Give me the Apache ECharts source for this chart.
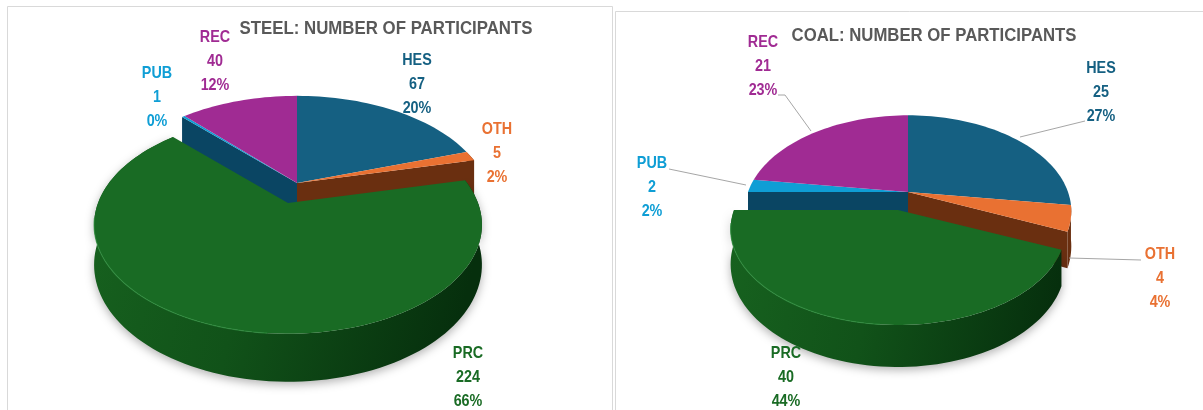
<!DOCTYPE html>
<html>
<head>
<meta charset="utf-8">
<style>
html, body { margin: 0; padding: 0; background: #fff; }
#main { width: 1203px; height: 410px; }
</style>
<script src="https://cdn.jsdelivr.net/npm/echarts@6/dist/echarts.min.js"></script>
</head>
<body>
<div id="main"></div>
<script>
// slices clockwise from 12 o'clock
var categories = ['HES', 'OTH', 'PRC', 'PUB', 'REC']
var steelValues = [67, 5, 224, 1, 40]
var steelPct = ['20%', '2%', '66%', '0%', '12%']
var coalValues = [25, 4, 40, 2, 21]
var coalPct = ['27%', '4%', '44%', '2%', '23%']

var topColors = ['#156082', '#E97132', '#196B24', '#0F9ED5', '#A02B93']
var wallColors = ['#0d4a66', '#6a2f10', '#145a1f', '#0a4563', '#6a1c62']

// 图的位置
var steelGeo = {back: [297, 183], front: [288, 203], R: 190, frontR: 190, S: 104.6, H: 38.4}
var coalGeo = {back: [908, 192], front: [898, 210], R: 160, frontR: 164, S: 92, H: 33.6}
var persp = 0.2

var steelLabels = [[417, 60], [497, 129], [468, 353], [157, 73], [215, 37]]
var coalLabels = [[1101, 68], [1160, 254], [786, 353], [652, 163], [763, 42]]
var lineGap = 24

var coalLeaders = [
    [[1085, 121], [1020, 137]],
    [[1141, 260], [1069, 258]],
    [[669, 169], [746, 185]],
    [[778, 95], [785, 95], [811, 131]]
]

var project = (geo, center, deg, down) => {
    var a = deg * Math.PI / 180
    var u = Math.sin(a)
    var v = -Math.cos(a)
    var w = 1 / (1 - persp * v)
    var r = center === geo.front ? geo.frontR : geo.R
    return [center[0] + r * u * w, center[1] + geo.S * v * w + (down ? geo.H * w : 0)]
}

var arcPoints = (geo, center, from, to, down) => {
    var pts = []
    var n = Math.max(2, Math.ceil((to - from) / 2))
    for (var i = 0; i <= n; i++) {
        pts.push(project(geo, center, from + (to - from) * i / n, down))
    }
    return pts
}

var makeRender = (values, pct, geo, labels) => {
    var total = values.reduce((s, d) => s + d, 0)

    return (params, api) => {
        var i = params.dataIndex
        var before = 0
        for (var k = 0; k < i; k++) before += values[k]
        var from = before / total * 360
        var to = (before + api.value(0)) / total * 360
        var isPrc = categories[i] === 'PRC'
        var center = isPrc ? geo.front : geo.back
        var children = []
        var apex = center
        var apexDown = [center[0], center[1] + geo.H]

        // 外侧面
        var lower = arcPoints(geo, center, from, to, true)
        var upper = arcPoints(geo, center, from, to, false)
        if (isPrc) {
            children.push({
                type: 'polygon',
                z2: 10,
                shape: {points: upper.concat(lower.slice().reverse())},
                style: {
                    fill: new echarts.graphic.LinearGradient(0, 0, 1, 0.4, [
                        {offset: 0, color: '#17621f'},
                        {offset: 0.45, color: '#115219'},
                        {offset: 1, color: '#062f0d'}
                    ]),
                    shadowBlur: 10,
                    shadowColor: 'rgba(0,0,0,0.3)',
                    shadowOffsetY: 3
                }
            })
        } else if (categories[i] === 'OTH') {
            children.push({
                type: 'polygon',
                z2: 1,
                shape: {points: upper.concat(lower.slice().reverse())},
                style: {fill: wallColors[i]}
            })
        }

        // 挨着PRC的切面
        if (categories[i] === 'OTH') {
            var r1 = project(geo, center, to, false)
            var r2 = project(geo, center, to, true)
            children.push({
                type: 'polygon',
                z2: 1,
                shape: {points: [apex, r1, r2, apexDown]},
                style: {fill: wallColors[i]}
            })
        }
        if (categories[i] === 'PUB') {
            var s1 = project(geo, center, from, false)
            var s2 = project(geo, center, from, true)
            children.push({
                type: 'polygon',
                z2: 1,
                shape: {points: [apex, s1, s2, apexDown]},
                style: {fill: wallColors[i]}
            })
        }

        // 顶面
        children.push({
            type: 'polygon',
            z2: isPrc ? 11 : 2,
            shape: {points: [apex].concat(upper)},
            style: {fill: topColors[i]}
        })

        if (isPrc) {
            children.push({
                type: 'polyline',
                z2: 12,
                shape: {points: arcPoints(geo, center, Math.max(from, 185), Math.min(to, 262), false)},
                style: {stroke: '#2f8f3f', lineWidth: 1.2, opacity: 0.7, fill: null}
            })
        }

        // 标签
        var lines = [categories[i], String(api.value(0)), pct[i]]
        lines.forEach((t, j) => {
            children.push({
                type: 'text',
                z2: 20,
                x: labels[i][0],
                y: labels[i][1] + j * lineGap,
                scaleX: 0.87,
                style: {
                    text: t,
                    fill: topColors[i],
                    font: 'bold 16.5px "Liberation Sans", sans-serif',
                    textAlign: 'center',
                    textVerticalAlign: 'middle'
                }
            })
        })

        return {type: 'group', children: children}
    }
}

var panel = (x, y, w, h) => ({
    type: 'rect',
    shape: {x: x, y: y, width: w, height: h},
    style: {fill: '#fff', stroke: '#d9d9d9', lineWidth: 1},
    silent: true,
    z: -1
})

var heading = (text, x, y, sx) => ({
    type: 'text',
    x: x,
    y: y,
    scaleX: sx,
    z: 5,
    style: {
        text: text,
        fill: '#595959',
        font: 'bold 18.5px "Liberation Sans", sans-serif',
        textAlign: 'center',
        textVerticalAlign: 'middle'
    }
})

var leaderLines = coalLeaders.map((pts) => ({
    type: 'polyline',
    z: 5,
    shape: {points: pts},
    style: {stroke: '#a6a6a6', lineWidth: 1, fill: null}
}))

var chart = echarts.init(document.getElementById('main'), null, {renderer: 'canvas'})

chart.setOption({
    animation: false,
    backgroundColor: '#fff',
    graphic: {
        elements: [
            panel(7.5, 6.5, 605, 420),
            panel(615.5, 11.5, 600, 420),
            heading('STEEL: NUMBER OF PARTICIPANTS', 386, 29, 0.91),
            heading('COAL: NUMBER OF PARTICIPANTS', 934, 36, 0.905)
        ].concat(leaderLines)
    },
    series: [
        {
            type: 'custom',
            name: 'Steel',
            coordinateSystem: 'none',
            silent: true,
            data: steelValues.map((d) => [d]),
            renderItem: makeRender(steelValues, steelPct, steelGeo, steelLabels)
        },
        {
            type: 'custom',
            name: 'Coal',
            coordinateSystem: 'none',
            silent: true,
            data: coalValues.map((d) => [d]),
            renderItem: makeRender(coalValues, coalPct, coalGeo, coalLabels)
        }
    ]
})
</script>
</body>
</html>
